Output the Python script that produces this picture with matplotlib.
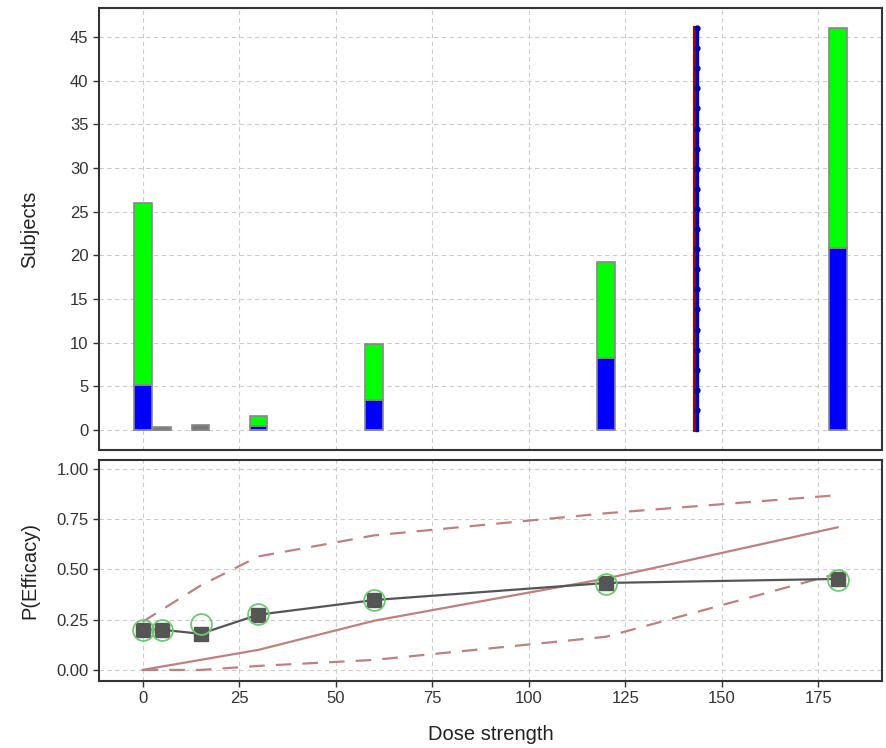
import numpy as np
import matplotlib
matplotlib.use("Agg")
import matplotlib.pyplot as plt

# dose levels and subject counts
doses = [0, 5, 15, 30, 60, 120, 180]
n_blue = [5.2, 0, 0, 0.4, 3.4, 8.2, 20.8]
n_green = [20.8, 0, 0, 1.2, 6.4, 11.0, 25.2]
n_gray = [0, 0.3, 0.6, 0, 0, 0, 0]

# highlighted dose marker (vertical line)
line_dose = 143.3
line_top = 46.0
line_dots = [2.3, 4.6, 6.9, 9.2, 11.5, 13.8, 16.1, 18.4, 20.7, 23.0,
             25.3, 27.6, 29.9, 32.2, 34.5, 36.8, 39.1, 41.4, 43.7, 46.0]

# efficacy panel
p_obs = [0.20, 0.20, 0.23, 0.28, 0.35, 0.43, 0.45]
p_fit = [0.20, 0.20, 0.18, 0.275, 0.348, 0.433, 0.453]
curve_dose = [0, 15, 30, 60, 120, 180]
curve_mid = [0.0, 0.05, 0.10, 0.245, 0.455, 0.71]
curve_lo = [0.0, 0.0, 0.02, 0.05, 0.165, 0.48]
curve_hi = [0.24, 0.42, 0.565, 0.67, 0.78, 0.87]

plt.rcParams['font.family'] = ['Liberation Sans', 'DejaVu Sans']

fig = plt.figure(figsize=(8.87, 7.48), dpi=100)
ax1 = fig.add_axes([0.1116, 0.3984, 0.8828, 0.5909])
ax2 = fig.add_axes([0.1116, 0.0896, 0.8828, 0.2954])

for ax in (ax1, ax2):
    ax.grid(True, color='#cccccc', linestyle=(0, (4, 3)), linewidth=0.8)
    ax.set_axisbelow(True)
    for s in ax.spines.values():
        s.set_color('#333333')
        s.set_linewidth(1.5)
    ax.tick_params(colors='#333333', labelsize=12, length=4, width=1)
    ax.set_xlim(-11.3, 191.5)
    ax.set_xticks([0, 25, 50, 75, 100, 125, 150, 175])

# top panel: stacked bars
w = 4.6
ax1.bar(doses, n_blue, width=w, color='#0000ff', edgecolor='#888888', linewidth=1.2)
ax1.bar(doses, n_green, width=w, bottom=n_blue, color='#00ff00', edgecolor='#888888', linewidth=1.2)
ax1.bar(doses, n_gray, width=w, color='#777777', edgecolor='#888888', linewidth=1.2)
ax1.plot([line_dose - 0.35, line_dose - 0.35], [0, line_top], color='#b00000', lw=3)
ax1.plot([line_dose + 0.4] * (len(line_dots) + 1), [0] + line_dots, color='#0000b0', lw=2.4,
         marker='o', markersize=3.5, markevery=list(range(1, len(line_dots) + 1)))
ax1.set_ylim(-2.29, 48.3)
ax1.set_yticks(np.arange(0, 50, 5))
ax1.tick_params(axis='x', length=0, labelbottom=False)
ax1.set_ylabel('Subjects', fontsize=14.5, color='#222222')
ax1.yaxis.set_label_coords(-0.0766, 0.5)

# bottom panel: efficacy
ax2.plot(curve_dose, curve_hi, color='#c08080', lw=1.6, linestyle=(0, (7, 5)))
ax2.plot(curve_dose, curve_lo, color='#c08080', lw=1.6, linestyle=(0, (7, 5)))
ax2.plot(curve_dose, curve_mid, color='#c08080', lw=1.6)
ax2.plot(doses, p_fit, color='#555555', lw=1.6, marker='s', markersize=10,
         markerfacecolor='#555555', markeredgecolor='#555555')
ax2.plot(doses, p_obs, linestyle='none', marker='o', markersize=15,
         markerfacecolor='none', markeredgecolor='#70c870', markeredgewidth=1.3)
ax2.set_ylim(-0.055, 1.045)
ax2.set_yticks([0, 0.25, 0.5, 0.75, 1.0])
ax2.set_yticklabels(['0.00', '0.25', '0.50', '0.75', '1.00'])
ax2.set_ylabel('P(Efficacy)', fontsize=14.5, color='#222222')
ax2.yaxis.set_label_coords(-0.0766, 0.5)
ax2.set_xlabel('Dose strength', fontsize=14.5, color='#222222')
ax2.xaxis.set_label_coords(0.5, -0.2)

fig.savefig('out.png', dpi=100)
